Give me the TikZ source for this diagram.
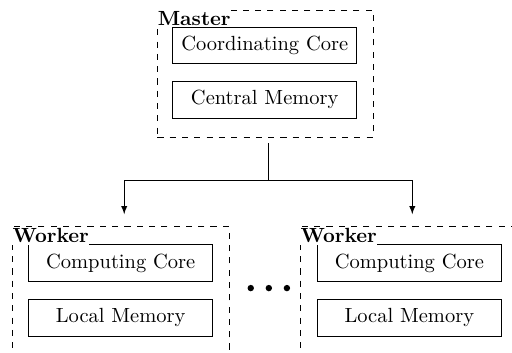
\documentclass[tikz,border=0pt]{standalone}
\usepackage{tikz}
\usetikzlibrary{arrows, positioning}

\begin{document}
\begin{tikzpicture}
				\useasboundingbox (0, 0) rectangle (8.78, -6.05);
				\clip (0, 0) rectangle (8.78, -6.05);

				\node[draw, dashed, minimum width=3.70cm, minimum height=2.18cm] at (4.55, -1.26) (master) {};
				\node[draw, minimum width=3.16cm, minimum height=0.63cm] at (4.54, -0.78) (coordinating-core) {Coordinating Core};
				\node[draw, minimum width=3.16cm, minimum height=0.63cm] at (4.54, -1.71) (central-memory) {Central Memory};
				\node[fill=white, inner xsep=0.2pt, inner ysep=0.8pt, anchor=north west, font=\bfseries] at (master.north west) (master-text) {Master};

				\node[draw, dashed, minimum width=3.72cm, minimum height=2.18cm] at (2.07, -4.98) (worker-left) {};
				\node[draw, minimum width=3.16cm, minimum height=0.63cm] at (2.07, -4.51) (computing-core-left) {Computing Core};
				\node[draw, minimum width=3.16cm, minimum height=0.63cm] at (2.07, -5.45) (local-memory-left) {Local Memory};
				\node[fill=white, inner xsep=0.2pt, inner ysep=0.8pt, anchor=north west, font=\bfseries] at (worker-left.north west) (worker-left-text) {Worker};

				\node[draw, dashed, minimum width=3.72cm, minimum height=2.18cm] at (7.01, -4.98) (worker-right) {};
				\node[draw, minimum width=3.16cm, minimum height=0.63cm] at (7.02, -4.51) (computing-core-right) {Computing Core};
				\node[draw, minimum width=3.16cm, minimum height=0.63cm] at (7.02, -5.45) (local-memory-right) {Local Memory};
				\node[fill=white, inner xsep=0.2pt, inner ysep=0.8pt, anchor=north west, font=\bfseries] at (worker-right.north west) (worker-right-text) {Worker};

				\fill (4.30, -4.94) circle (0.055);
				\fill (4.61, -4.94) circle (0.055);
				\fill (4.92, -4.94) circle (0.055);

				\draw[-latex, shorten <=0.1cm, shorten >=0.21cm] ([xshift=0.06cm]master.south) -- ++(0, -0.74) -| ([xshift=0.06cm]worker-left.north);
				\draw[-latex, shorten <=0.1cm, shorten >=0.21cm] ([xshift=0.06cm]master.south) -- ++(0, -0.74) -| ([xshift=0.06cm]worker-right.north);
\end{tikzpicture}
\end{document}
